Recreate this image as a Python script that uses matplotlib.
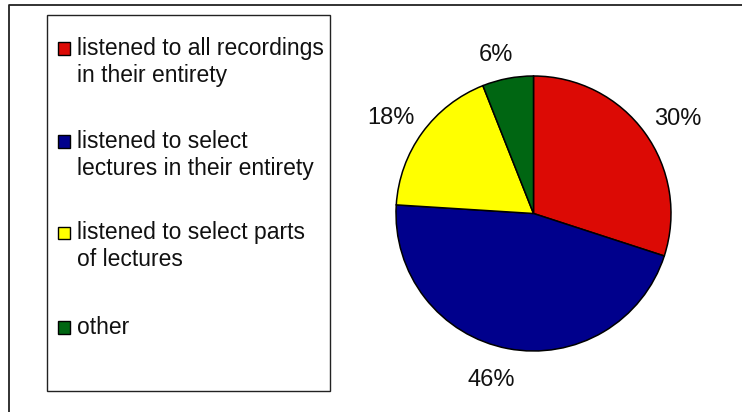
import matplotlib
matplotlib.use('Agg')
import matplotlib.pyplot as plt
from matplotlib.patches import Rectangle
from matplotlib.lines import Line2D

plt.rcParams['font.family'] = ['Liberation Sans', 'DejaVu Sans']

# data
categories = ['listened to all recordings\nin their entirety',
              'listened to select\nlectures in their entirety',
              'listened to select parts\nof lectures',
              'other']
shares = [30, 46, 18, 6]
colors = ['#DC0A05', '#00008C', '#FFFF00', '#006612']

W, H = 742, 412
fig = plt.figure(figsize=(W / 100, H / 100), dpi=100)

def fx(px):
    return px / W

def fy(py):
    # py measured from top
    return 1 - py / H

# outer frame (only left and top edges visible)
fig.add_artist(Line2D([fx(9), fx(9), fx(742)], [fy(412), fy(4.7), fy(4.7)],
                      color='#222222', lw=1.3, transform=fig.transFigure))

# pie
R = 137.5
cx, cy = 533.5, 213.5
size = R * 3
ax = fig.add_axes([fx(cx - size / 2), fy(cy + size / 2), size / W, size / H])
wedges, texts, autotexts = ax.pie(shares, colors=colors, startangle=90,
                                  counterclock=False, radius=1,
                                  autopct='%1.0f%%', pctdistance=1.22,
                                  wedgeprops=dict(edgecolor='black', linewidth=1.1))
ax.set_xlim(-1.5, 1.5)
ax.set_ylim(-1.5, 1.5)
ax.set_aspect('equal')
ax.axis('off')

# small pixel nudges so the labels sit like the original (right, down)
nudges = [(9, 4), (-11, 2), (-7, 3), (-6, 6)]
for t, (dx, dy) in zip(autotexts, nudges):
    t.set_fontsize(17)
    t.set_color('#111111')
    x, y = t.get_position()
    t.set_position((x + dx / R, y - dy / R))

# legend box
fig.add_artist(Rectangle((fx(46.7), fy(391)), fx(330 - 46.7), (391 - 15.3) / H,
                         fill=False, edgecolor='#222222', lw=1.0,
                         transform=fig.transFigure))
baselines = [55, 148, 239.3, 333.7]
line_gap = 26.7
for lab, col, b in zip(categories, colors, baselines):
    fig.add_artist(Rectangle((fx(57.5), fy(b)), 12 / W, 12.5 / H,
                             facecolor=col, edgecolor='black', lw=1.0,
                             transform=fig.transFigure))
    for k, line in enumerate(lab.split('\n')):
        fig.text(fx(77.3), fy(b + k * line_gap), line, fontsize=16.5,
                 va='baseline', ha='left', color='#111111')

fig.savefig('out.png', dpi=100)
